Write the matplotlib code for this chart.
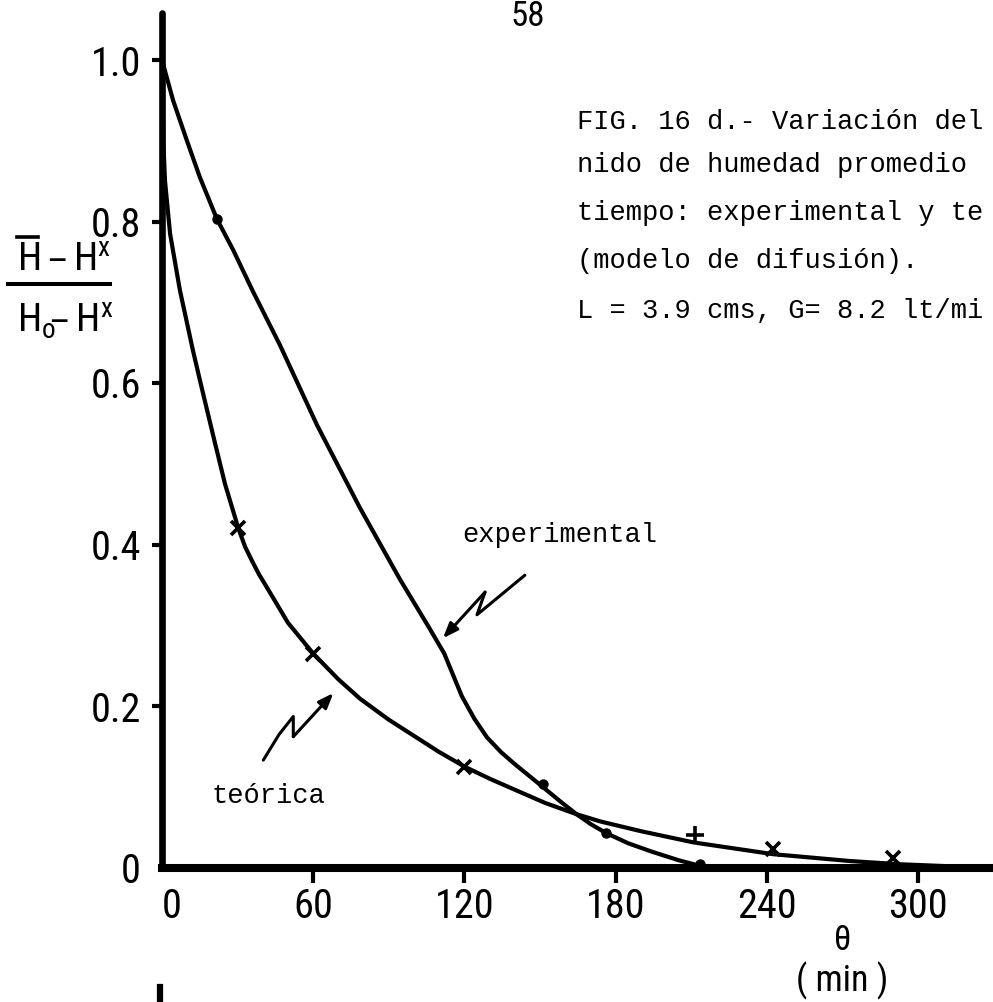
import matplotlib
matplotlib.use("Agg")
import matplotlib.pyplot as plt
from matplotlib import font_manager as fm
from matplotlib.lines import Line2D
from matplotlib.transforms import ScaledTranslation

# ---- curve readings: drying time (min) vs. reduced moisture content ----
exp_t = [0, 4.4, 9.9, 15, 21.8, 28.2, 36, 46.8, 61.5, 78.6, 94.4, 106, 112,
         119, 124, 129, 134.5, 140, 145.5, 151, 158, 164.5, 170, 176, 185,
         194, 205, 213.5]
exp_v = [1.0, 0.95, 0.90, 0.855, 0.803, 0.765, 0.714, 0.647, 0.548, 0.445,
         0.357, 0.297, 0.265, 0.212, 0.184, 0.161, 0.143, 0.128, 0.114, 0.100,
         0.082, 0.066, 0.054, 0.043, 0.030, 0.020, 0.009, 0.002]

teo_t = [0, 0.5, 1.2, 3.2, 7.1, 12.3, 15, 20.3, 25, 30.3, 33, 36, 38.5, 41.6,
         50, 60, 70, 78.6, 90, 100, 110, 120, 130, 141.7, 152, 164.5, 174,
         190, 211, 242.5, 273, 293, 315, 330]
teo_v = [1.0, 0.90, 0.85, 0.785, 0.715, 0.64, 0.604, 0.535, 0.475, 0.42,
         0.397, 0.378, 0.363, 0.347, 0.303, 0.265, 0.233, 0.209, 0.183, 0.163,
         0.143, 0.125, 0.110, 0.094, 0.080, 0.066, 0.057, 0.045, 0.031,
         0.0165, 0.008, 0.004, 0.0012, 0.0]

# measured points
exp_pts_t = [21.8, 151, 176, 213.5]
exp_pts_v = [0.803, 0.103, 0.043, 0.004]
teo_pts_t = [30.3, 60, 120, 242.5, 290]
teo_pts_v = [0.42, 0.265, 0.125, 0.023, 0.012]
plus_pts_t = [211.5]
plus_pts_v = [0.040]

x_ticks = [0, 60, 120, 180, 240, 300]
x_labels = ["0", "60", "120", "180", "240", "300"]
y_ticks = [0, 0.2, 0.4, 0.6, 0.8, 1.0]
y_labels = ["0", "0.2", "0.4", "0.6", "0.8", "1.0"]

caption_lines = [
    "FIG. 16 d.- Variación del",
    "nido de humedad promedio",
    "tiempo: experimental y te",
    "(modelo de difusión).",
    "L = 3.9 cms, G= 8.2 lt/mi",
]

# ---- fonts ----
_names = {f.name for f in fm.fontManager.ttflist}


def pick(*cands):
    for c in cands:
        if c in _names:
            return c
    return "DejaVu Sans"


SANS = [pick("Liberation Sans Narrow", "DejaVu Sans Condensed",
             "Roboto Condensed", "Liberation Sans"), "DejaVu Sans"]
MONO = [pick("Liberation Mono", "DejaVu Sans Mono"), "DejaVu Sans Mono"]

W, H = 993, 1002
fig = plt.figure(figsize=(W / 100, H / 100), dpi=100)
fig.patch.set_facecolor("white")


def fx(px):
    return px / W


def fy(py):
    return 1 - py / H


X0, Y0 = 162, 867.5          # origin in pixels
PX_MIN, PX_UNIT = 2.52, 807.5
ax = fig.add_axes([fx(X0), fy(Y0), (W - X0) / W, (Y0 - 13) / H])
ax.set_xlim(0, (W - X0) / PX_MIN)
ax.set_ylim(0, (Y0 - 13) / PX_UNIT)
ax.set_facecolor("none")

for s in ("top", "right"):
    ax.spines[s].set_visible(False)
ax.spines["left"].set_linewidth(4.8)
ax.spines["bottom"].set_linewidth(5.8)
ax.spines["left"].set_capstyle("round")

ax.set_xticks(x_ticks)
ax.set_xticklabels(x_labels)
ax.set_yticks(y_ticks)
ax.set_yticklabels(y_labels)
ax.tick_params(axis="x", direction="out", length=10.5, width=3, pad=3.6,
               labelsize=29, colors="black")
ax.tick_params(axis="y", direction="out", length=7.2, width=3, pad=8.0,
               labelsize=29, colors="black")
for lab in ax.get_xticklabels() + ax.get_yticklabels():
    lab.set_family(SANS)
ax.xaxis.get_major_ticks()[0].tick1line.set_visible(False)
ax.yaxis.get_major_ticks()[0].tick1line.set_visible(False)
zero_lab = ax.get_xticklabels()[0]
zero_lab.set_transform(zero_lab.get_transform()
                       + ScaledTranslation(0.10, 0, fig.dpi_scale_trans))

line_kw = dict(color="black", lw=3.0, solid_capstyle="round",
               solid_joinstyle="round", clip_on=False)
ax.plot(exp_t, exp_v, **line_kw)
ax.plot(teo_t, teo_v, **line_kw)

ax.plot(exp_pts_t, exp_pts_v, "o", color="black", ms=6.5, clip_on=False)
ax.plot(teo_pts_t, teo_pts_v, "x", color="black", ms=10, mew=2.6,
        clip_on=False)
ax.plot(plus_pts_t, plus_pts_v, "+", color="black", ms=13, mew=2.6,
        clip_on=False)

# zig-zag pointers to each curve
arrow_kw = dict(color="black", lw=2.2, solid_capstyle="round",
                solid_joinstyle="round")
head = "-|>,head_length=0.9,head_width=0.35"
ax.plot([144.0, 125.0, 128.2], [0.362, 0.313, 0.341], **arrow_kw)
ax.annotate("", xy=(111.5, 0.284), xytext=(128.2, 0.341),
            arrowprops=dict(arrowstyle=head, color="black", lw=2.2,
                            shrinkA=0, shrinkB=0))
ax.plot([40.2, 46.5, 52.1, 52.1], [0.133, 0.165, 0.187, 0.162], **arrow_kw)
ax.annotate("", xy=(68.0, 0.216), xytext=(52.1, 0.162),
            arrowprops=dict(arrowstyle=head, color="black", lw=2.2,
                            shrinkA=0, shrinkB=0))

# curve names
tw = dict(family=MONO, fontsize=19.5, color="black", ha="left", va="baseline")
fig.text(fx(462), fy(542), "experimental", **tw)
fig.text(fx(212), fy(803), "teórica", **tw)

# figure caption
cap_base = [129, 172, 220, 268, 318]
for y, s in zip(cap_base, caption_lines):
    fig.text(fx(577), fy(y), s, **tw)

# y-axis quantity written as a fraction
sk = dict(family=SANS, color="black", ha="left", va="baseline", fontsize=28)
fig.text(fx(17), fy(271), r"$\mathregular{H\,–\,H^{x}}$", **sk)
fig.add_artist(Line2D([fx(17), fx(38)], [fy(237), fy(237)], color="black",
                      lw=2.6, transform=fig.transFigure))
fig.add_artist(Line2D([fx(8), fx(110)], [fy(283.5), fy(283.5)], color="black",
                      lw=2.9, transform=fig.transFigure))
fig.text(fx(17), fy(332), r"$\mathregular{H_{o}\!–\,H^{x}}$", **sk)

# x-axis quantity
fig.text(fx(843), fy(940), "θ", fontsize=25, family=SANS, color="black",
         ha="center", va="center")
fig.text(fx(842), fy(981), "( min )", fontsize=26, family=SANS,
         color="black", ha="center", va="center")

# page number and start of the next frame
fig.text(fx(528), fy(16), "58", fontsize=25, family=SANS, color="black",
         ha="center", va="center")
fig.add_artist(Line2D([fx(160), fx(160)], [fy(987), fy(1002)], color="black",
                      lw=4.5, transform=fig.transFigure))

fig.savefig("out.png", dpi=100, facecolor="white")
